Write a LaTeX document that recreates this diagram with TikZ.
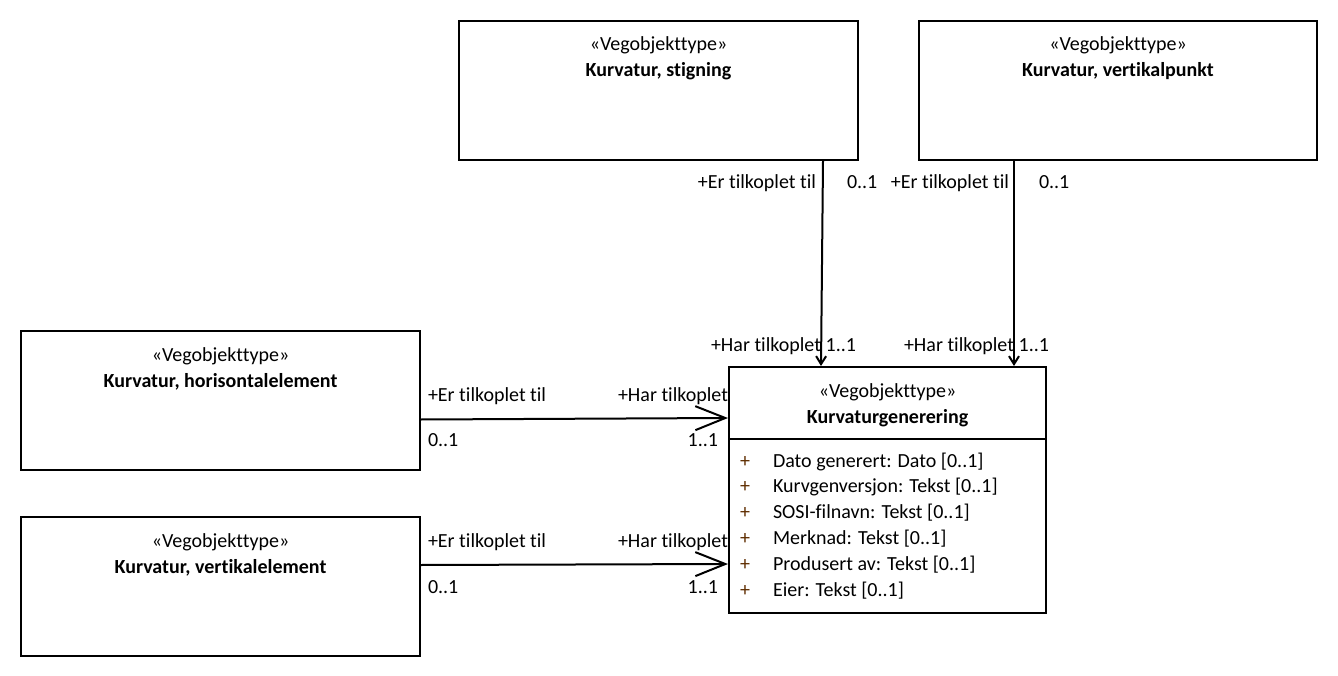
\documentclass[tikz,border=0pt]{standalone}
\usepackage{fontspec}
\setmainfont{Carlito}[Ligatures=NoCommon]
\usetikzlibrary{arrows.meta,positioning}
\definecolor{plusbrown}{RGB}{95,45,0}

\begin{document}
\begin{tikzpicture}[x=1pt,y=-1pt,line width=2pt,
  		font=\fontsize{20}{24}\selectfont,
  		umlbox/.style={draw,rectangle,anchor=north west,inner sep=0pt,
  			minimum width=#1,minimum height=139pt},
  		umlbox/.default=399pt,
  		txt/.style={inner sep=0pt},
  		assoc/.style={-{Straight Barb[length=30pt,width=24pt]}},
  		assocv/.style={-{Straight Barb[length=8pt,width=10pt]}}]
  		\useasboundingbox (0,0) rectangle (1338,676);
  		% classes
  		\node[umlbox] (stig) at (458,20) {};
  		\node[umlbox=398pt] (vpkt) at (918,20) {};
  		\node[umlbox] (hor) at (20,330) {};
  		\node[umlbox] (vel) at (20,516) {};
  		\node[draw,rectangle,anchor=north west,inner sep=0pt,
  			minimum width=317pt,minimum height=246pt] (gen) at (728,366) {};
  		\draw ([yshift=-73pt]gen.north west) -- ([yshift=-73pt]gen.north east);

  		\node[txt,anchor=base] at ([yshift=-31pt]stig.north) {«Vegobjekttype»};
  		\node[txt,anchor=base] at ([yshift=-57pt]stig.north) {\textbf{Kurvatur, stigning}};
  		\node[txt,anchor=base] at ([yshift=-31pt]vpkt.north) {«Vegobjekttype»};
  		\node[txt,anchor=base] at ([yshift=-57pt]vpkt.north) {\textbf{Kurvatur, vertikalpunkt}};
  		\node[txt,anchor=base] at ([yshift=-31pt]hor.north) {«Vegobjekttype»};
  		\node[txt,anchor=base] at ([yshift=-57pt]hor.north) {\textbf{Kurvatur, horisontalelement}};
  		\node[txt,anchor=base] at ([yshift=-31pt]vel.north) {«Vegobjekttype»};
  		\node[txt,anchor=base] at ([yshift=-57pt]vel.north) {\textbf{Kurvatur, vertikalelement}};
  		\node[txt,anchor=base] at ([yshift=-31pt]gen.north) {«Vegobjekttype»};
  		\node[txt,anchor=base] at ([yshift=-57pt]gen.north) {\textbf{Kurvaturgenerering}};

  		% attributes
  		\foreach \attr [count=\i] in {{Dato generert: Dato [0..1]},
  			{Kurvgenversjon: Tekst [0..1]},{SOSI-filnavn: Tekst [0..1]},
  			{Merknad: Tekst [0..1]},{Produsert av: Tekst [0..1]},{Eier: Tekst [0..1]}}
  		{
  			\node[txt,anchor=base west,text=plusbrown] at ([xshift=11pt,yshift={-101pt-25.8pt*(\i-1)}]gen.north west) {+};
  			\node[txt,anchor=base west] at ([xshift=44pt,yshift={-101pt-25.8pt*(\i-1)}]gen.north west) {\attr};
  		}

  		% associations
  		\draw[assocv] ([xshift=-36pt]stig.south east) -- ([xshift=93pt]gen.north west);
  		\draw[assocv] ([xshift=96pt]vpkt.south west) -- ([xshift=286pt]gen.north west);
  		\draw[assoc] ([yshift=-19pt]hor.east) -- ([yshift=-52pt]gen.north west);
  		\draw[assoc] ([yshift=21.5pt]vel.east) -- ([yshift=-198pt]gen.north west);

  		% roles and multiplicities
  		\node[txt,anchor=base east] at (817,189) {+Er tilkoplet til};
  		\node[txt,anchor=base west] at (846,189) {0..1};
  		\node[txt,anchor=base east] at (1010,189) {+Er tilkoplet til};
  		\node[txt,anchor=base west] at (1038,189) {0..1};
  		\node[txt,anchor=base west] at (710,351) {+Har tilkoplet};
  		\node[txt,anchor=base east] at (857,351) {1..1};
  		\node[txt,anchor=base west] at (903,351) {+Har tilkoplet};
  		\node[txt,anchor=base east] at (1050,351) {1..1};
  		\node[txt,anchor=base west] at (427,401) {+Er tilkoplet til};
  		\node[txt,anchor=base west] at (427,446) {0..1};
  		\node[txt,anchor=base east] at (729,401) {+Har tilkoplet};
  		\node[txt,anchor=base east] at (719,446) {1..1};
  		\node[txt,anchor=base west] at (427,547) {+Er tilkoplet til};
  		\node[txt,anchor=base west] at (427,593) {0..1};
  		\node[txt,anchor=base east] at (729,547) {+Har tilkoplet};
  		\node[txt,anchor=base east] at (719,593) {1..1};
\end{tikzpicture}
\end{document}
